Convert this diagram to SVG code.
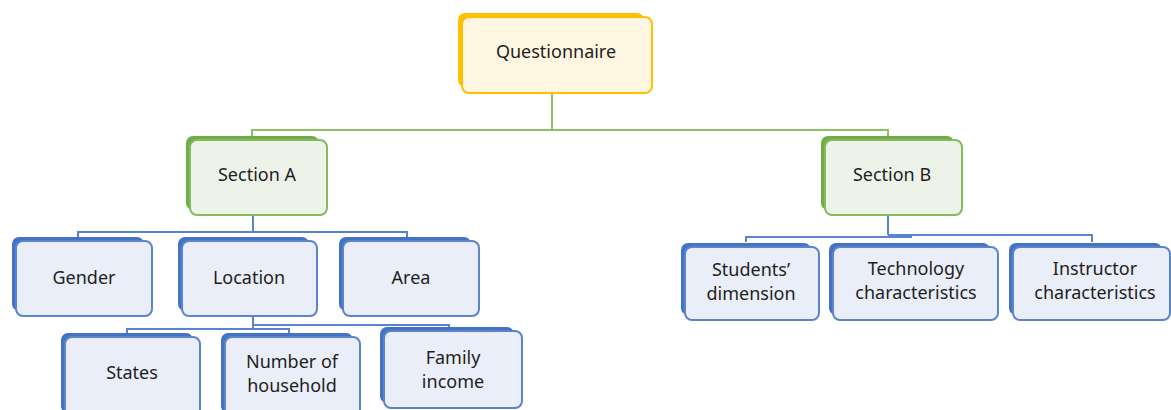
<svg xmlns="http://www.w3.org/2000/svg" width="1171" height="410" viewBox="0 0 1171 410">
<style>
text{font-family:"Noto Sans","Liberation Sans",sans-serif;font-size:18px;fill:#1e1e1e;text-anchor:middle}
.gb{fill:#ffc000}.gf{fill:#fff6e2;stroke:#ffc000;stroke-width:2}
.sb{fill:#70ad47}.sf{fill:#eef3e9;stroke:#84bb5f;stroke-width:2}
.bb{fill:#4472c4}.bf{fill:#e9eef8;stroke:#5b84cc;stroke-width:2}
.cg{fill:none;stroke:#8cc16a;stroke-width:2}
.cb{fill:none;stroke:#5a84cf;stroke-width:2}
</style>
<rect width="1171" height="410" fill="#ffffff"/>
<g id="connectors">
<path class="cg" d="M552 93V130M252 138V130H888V137"/>
<path class="cb" d="M253 215V232M78 238V232H407V238"/>
<path class="cb" d="M253 316V329M127 334V329H289V334M253 325H449V330"/>
<path class="cb" d="M888 215V235M746 242V237H912M888 235H1092V242"/>
</g>
<g id="questionnaire"><rect class="gb" x="458" y="13" width="186" height="74" rx="7"/><rect class="gf" x="462" y="17" width="190" height="76" rx="7"/><text x="556" y="58">Questionnaire</text></g>
<g id="sectionA"><rect class="sb" x="186" y="136" width="133" height="74" rx="7"/><rect class="sf" x="190" y="140" width="137" height="75" rx="7"/><text x="257" y="181">Section A</text></g>
<g id="sectionB"><rect class="sb" x="821" y="136" width="133" height="74" rx="7"/><rect class="sf" x="825" y="140" width="137" height="75" rx="7"/><text x="892" y="181">Section B</text></g>
<g id="gender"><rect class="bb" x="12" y="237" width="132" height="74" rx="7"/><rect class="bf" x="16" y="241" width="136" height="75" rx="7"/><text x="84" y="284">Gender</text></g>
<g id="location"><rect class="bb" x="178" y="237" width="131" height="74" rx="7"/><rect class="bf" x="182" y="241" width="135" height="75" rx="7"/><text x="249" y="284">Location</text></g>
<g id="area"><rect class="bb" x="339" y="237" width="132" height="74" rx="7"/><rect class="bf" x="343" y="241" width="136" height="75" rx="7"/><text x="411" y="284">Area</text></g>
<g id="states"><rect class="bb" x="61" y="333" width="132" height="80" rx="7"/><rect class="bf" x="65" y="337" width="135" height="80" rx="7"/><text x="132" y="379">States</text></g>
<g id="household"><rect class="bb" x="221" y="333" width="132" height="80" rx="7"/><rect class="bf" x="225" y="337" width="135" height="80" rx="7"/><text x="292" y="368">Number of</text><text x="292" y="392">household</text></g>
<g id="income"><rect class="bb" x="380" y="327" width="134" height="76" rx="7"/><rect class="bf" x="384" y="331" width="138" height="77" rx="7"/><text x="453" y="364">Family</text><text x="453" y="388">income</text></g>
<g id="students"><rect class="bb" x="681" y="243" width="130" height="72" rx="7"/><rect class="bf" x="685" y="247" width="134" height="73" rx="7"/><text x="751" y="276">Students’</text><text x="751" y="300">dimension</text></g>
<g id="technology"><rect class="bb" x="829" y="243" width="161" height="72" rx="7"/><rect class="bf" x="833" y="247" width="165" height="73" rx="7"/><text x="916" y="275">Technology</text><text x="916" y="299">characteristics</text></g>
<g id="instructor"><rect class="bb" x="1009" y="243" width="153" height="72" rx="7"/><rect class="bf" x="1013" y="247" width="157" height="73" rx="7"/><text x="1095" y="275">Instructor</text><text x="1095" y="299">characteristics</text></g>
</svg>
